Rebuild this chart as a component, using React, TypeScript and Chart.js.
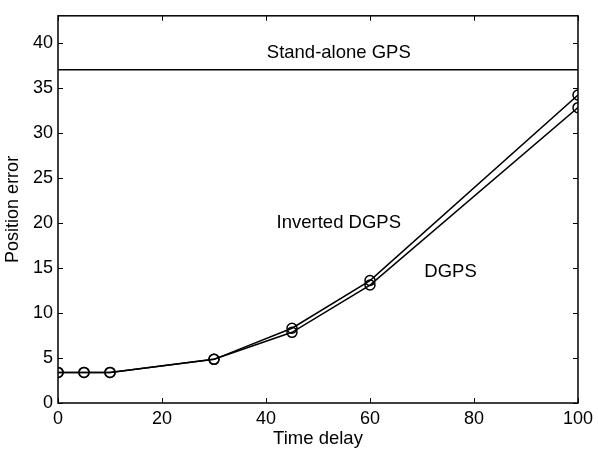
import React, { useEffect, useRef } from "react";
import { Chart, registerables } from "chart.js";

Chart.register(...registerables);

const timeDelay = [0, 5, 10, 30, 45, 60, 100];
const invertedDgps = [3.4, 3.4, 3.4, 4.85, 8.3, 13.6, 34.2];
const dgps = [3.4, 3.4, 3.4, 4.85, 7.85, 13.1, 32.8];
const standAloneGps = 37;
const standAloneX = [0, 100];
const xTicks = [0, 20, 40, 60, 80, 100];
const yTicks = [0, 5, 10, 15, 20, 25, 30, 35, 40];
const labels = [
  { text: "Stand-alone GPS", x: 54, y: 38.9 },
  { text: "Inverted DGPS", x: 54, y: 20 },
  { text: "DGPS", x: 75.5, y: 14.6 },
];

const FONT = "'Liberation Sans', Arial, Helvetica, sans-serif";

const framePlugin = {
  id: "frame",
  afterDraw(chart: any) {
    const { ctx, chartArea: a, scales } = chart;
    const xs = scales.x;
    const ys = scales.y;
    ctx.save();
    ctx.strokeStyle = "#000";
    ctx.lineWidth = 1.5;
    ctx.strokeRect(a.left, a.top, a.right - a.left, a.bottom - a.top);
    ctx.lineWidth = 1;
    const L = 5;
    ctx.beginPath();
    xTicks.forEach((v) => {
      const px = Math.round(xs.getPixelForValue(v)) + 0.5;
      ctx.moveTo(px, a.bottom);
      ctx.lineTo(px, a.bottom - L);
      ctx.moveTo(px, a.top);
      ctx.lineTo(px, a.top + L);
    });
    yTicks.forEach((v) => {
      const py = Math.round(ys.getPixelForValue(v)) + 0.5;
      ctx.moveTo(a.left, py);
      ctx.lineTo(a.left + L, py);
      ctx.moveTo(a.right, py);
      ctx.lineTo(a.right - L, py);
    });
    ctx.stroke();
    ctx.fillStyle = "#000";
    ctx.font = `18.5px ${FONT}`;
    ctx.textAlign = "center";
    ctx.textBaseline = "middle";
    labels.forEach((l) => {
      ctx.fillText(l.text, xs.getPixelForValue(l.x), ys.getPixelForValue(l.y));
    });
    ctx.restore();
  },
};

export default function App() {
  const ref = useRef<HTMLCanvasElement>(null);
  useEffect(() => {
    const lineDs = (vals: number[]) => ({
      data: timeDelay.map((x, i) => ({ x, y: vals[i] })),
      borderColor: "#000",
      borderWidth: 1.5,
      pointRadius: 5,
      pointBorderWidth: 1.5,
      pointBorderColor: "#000",
      pointBackgroundColor: "rgba(0,0,0,0)",
      pointStyle: "circle",
      tension: 0,
    });
    const chart = new Chart(ref.current!, {
      type: "line",
      data: {
        datasets: [
          lineDs(invertedDgps),
          lineDs(dgps),
          {
            data: standAloneX.map((x) => ({ x, y: standAloneGps })),
            borderColor: "#000",
            borderWidth: 1.5,
            pointRadius: 0,
          },
        ],
      },
      options: {
        animation: false,
        responsive: true,
        maintainAspectRatio: false,
        layout: { padding: { top: 9, right: 18, left: 0, bottom: 0 } },
        plugins: { legend: { display: false }, tooltip: { enabled: false } },
        scales: {
          x: {
            type: "linear",
            min: 0,
            max: 100,
            afterBuildTicks: (s: any) => {
              s.ticks = xTicks.map((v) => ({ value: v }));
            },
            afterFit: (s: any) => {
              s.height = 49;
            },
            grid: { display: false, drawTicks: false },
            border: { display: false },
            ticks: { color: "#000", font: { family: FONT, size: 18 }, padding: 5, maxRotation: 0 },
            title: {
              display: true,
              text: "Time delay",
              color: "#000",
              font: { family: FONT, size: 18.5 },
              padding: { top: 0, bottom: 2 },
            },
          },
          y: {
            type: "linear",
            min: 0,
            max: 43,
            afterBuildTicks: (s: any) => {
              s.ticks = yTicks.map((v) => ({ value: v }));
            },
            afterFit: (s: any) => {
              s.width = 58;
            },
            grid: { display: false, drawTicks: false },
            border: { display: false },
            ticks: { color: "#000", font: { family: FONT, size: 18 }, padding: 5 },
            title: {
              display: true,
              text: "Position error",
              color: "#000",
              font: { family: FONT, size: 18 },
              padding: { top: 2, bottom: 0 },
            },
          },
        },
      },
      plugins: [framePlugin],
    } as any);
    return () => chart.destroy();
  }, []);
  return (
    <div style={{ position: "fixed", left: 0, top: 0, width: 598, height: 452, background: "#fff" }}>
      <canvas ref={ref} />
    </div>
  );
}
